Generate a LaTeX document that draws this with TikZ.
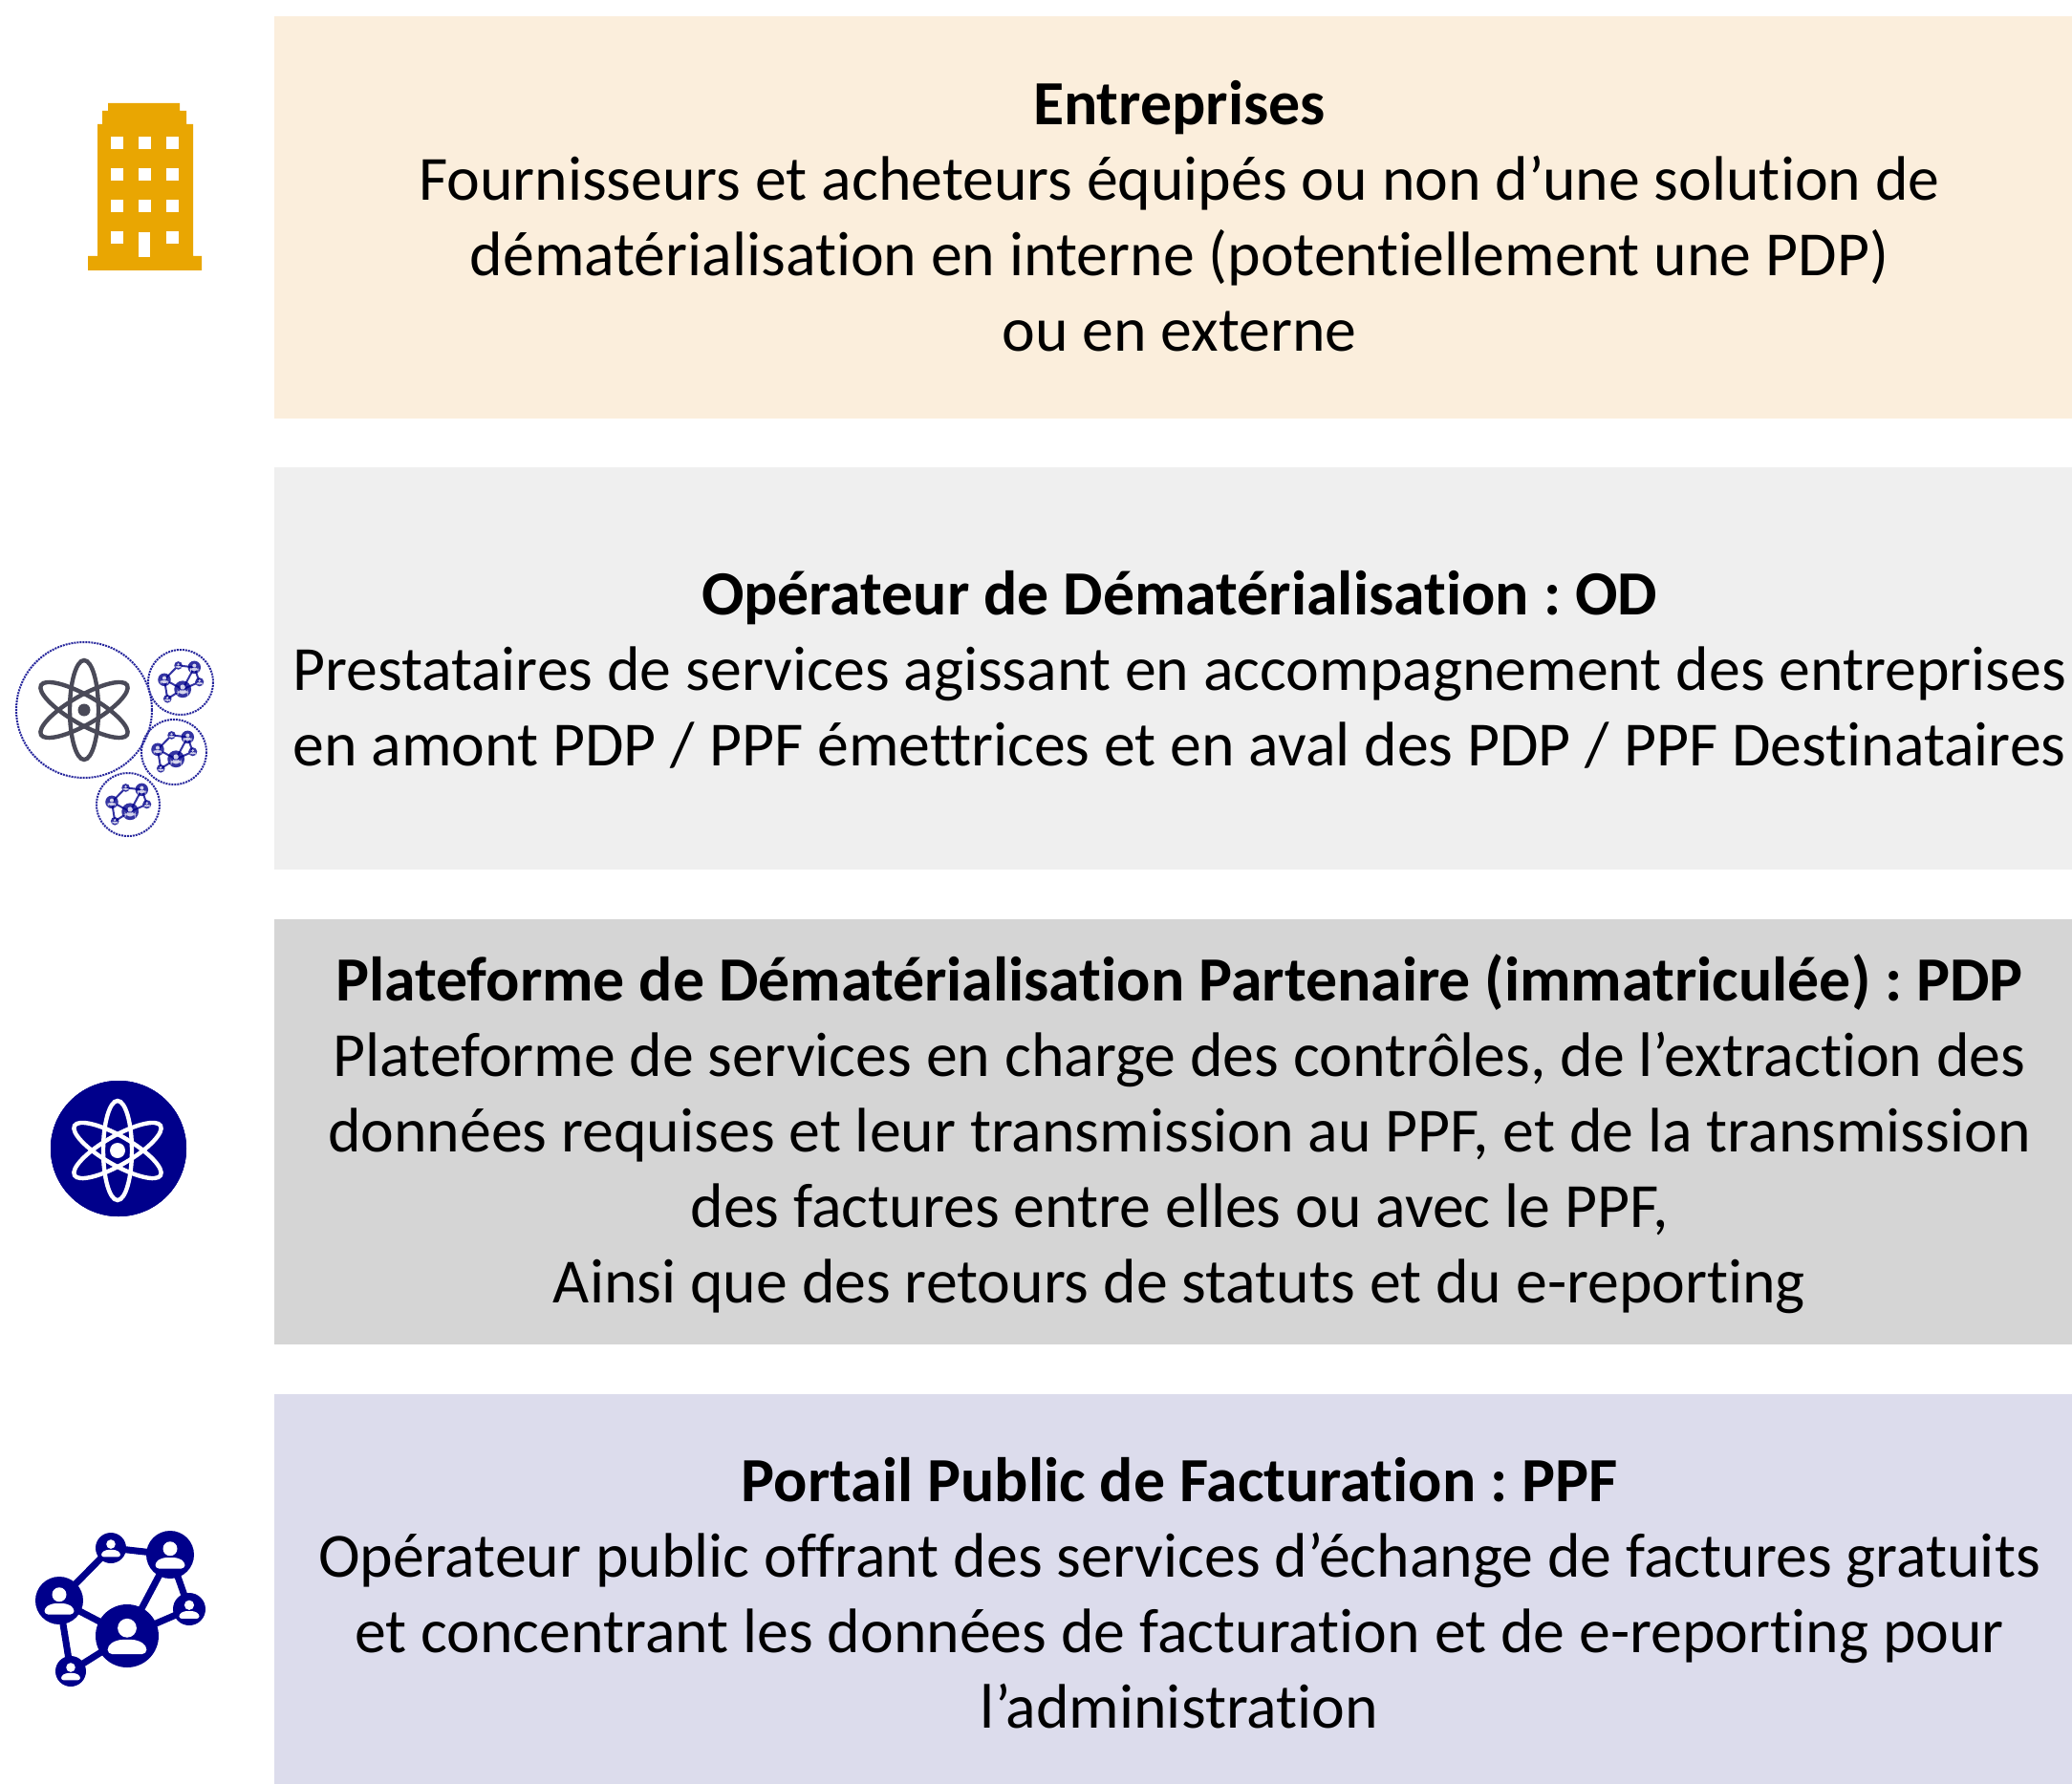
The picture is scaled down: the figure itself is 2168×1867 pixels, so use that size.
\documentclass[tikz,border=0pt]{standalone}
\usepackage{fontspec}
\setmainfont[Ligatures=NoCommon]{Carlito}
\frenchspacing
\definecolor{boxA}{HTML}{FBEEDC}
\definecolor{boxB}{HTML}{EFEFEF}
\definecolor{boxC}{HTML}{D5D5D5}
\definecolor{boxD}{HTML}{DCDCEC}
\definecolor{gold}{HTML}{E9A602}
\definecolor{navyb}{HTML}{00008B}
\definecolor{atomgrey}{HTML}{4A4A58}
\newcommand{\atomicon}[4]{%
  \begin{scope}[shift={(#1,#2)}]
    \foreach \a in {0,60,120}
      \draw[#3,line width=4.4pt,rotate=\a] (0,0) ellipse [x radius=15,y radius=52];
    \fill[#3] (0,0) circle (#4);
  \end{scope}}
\newcommand{\netcore}{%
  \draw[netline] (-9,-65) -- (53,-58) -- (73,-1) -- (8,27) -- (53,-58)
    (-9,-65) -- (-63,-10) -- (8,27) -- (-51,64) -- (-63,-10);
  \foreach \x/\y/\r in {-9/-65/16,53/-58/25,-63/-10/25,8/27/33,73/-1/17,-51/64/16}{
    \fill[navyb] (\x,\y) circle (\r);
    \fill[white] (\x,\y-0.25*\r) circle (0.3*\r);
    \fill[white,rounded corners=0.15*\r] (\x-0.62*\r,\y+0.58*\r) -- (\x-0.62*\r,\y+0.3*\r) -- (\x-0.3*\r,\y+0.12*\r) -- (\x+0.3*\r,\y+0.12*\r) -- (\x+0.62*\r,\y+0.3*\r) -- (\x+0.62*\r,\y+0.58*\r) -- cycle;
  }}
\tikzset{
  x=1pt,y=-1pt,
  band/.style={draw=none},
  lbl/.style={align=center,inner sep=0pt,text=black,font=\fontsize{65.8}{79}\selectfont},
  ring/.style={draw=navyb!85,line width=2pt,densely dotted},
  netline/.style={draw=navyb,line width=7pt}
}
\begin{document}
\begin{tikzpicture}
\useasboundingbox (0,0) rectangle (2168,1867);
\fill[white] (0,0) rectangle (2168,1867);
% bands
\fill[boxA,band] (287,17) rectangle (2168,438);
\fill[boxB,band] (287,489) rectangle (2168,910);
\fill[boxC,band] (287,962) rectangle (2168,1407);
\fill[boxD,band] (287,1459) rectangle (2168,1867);
% texts
\node[lbl] (entreprises) at (1234,226) {\textbf{Entreprises}\\Fournisseurs et acheteurs équipés ou non d’une solution de\\dématérialisation en interne (potentiellement une PDP)\\ou en externe};
\node[lbl] (od) at (1234,701) {\textbf{Opérateur de Dématérialisation : OD}\\Prestataires de services agissant en accompagnement des entreprises\\en amont PDP / PPF émettrices et en aval des PDP / PPF Destinataires};
\node[lbl] (pdp) at (1234,1187) {\textbf{Plateforme de Dématérialisation Partenaire (immatriculée) : PDP}\\Plateforme de services en charge des contrôles, de l’extraction des\\données requises et leur transmission au PPF, et de la transmission\\des factures entre elles ou avec le PPF,\\Ainsi que des retours de statuts et du e-reporting};
\node[lbl] (ppf) at (1234,1667) {\textbf{Portail Public de Facturation : PPF}\\Opérateur public offrant des services d’échange de factures gratuits\\et concentrant les données de facturation et de e-reporting pour\\l’administration};
% building icon
\fill[gold] (92,283) -- (92,268) -- (102,268) -- (102,130) -- (107,130) -- (107,116) -- (113,116) -- (113,108) -- (188,108) -- (188,116) -- (195,116) -- (195,130) -- (202,130) -- (202,268) -- (211,268) -- (211,283) -- cycle;
\foreach \x in {122,151,180}
  \foreach \y in {150,183,216}
    \fill[white] (\x-6.5,\y-6.5) rectangle (\x+6.5,\y+6.5);
\foreach \x in {122,180}
  \fill[white] (\x-6.5,249-6.5) rectangle (\x+6.5,249+6.5);
\fill[white] (145,243) rectangle (157,269);
% OD icon
\draw[ring] (88,743) circle (71);
\draw[ring] (189,714) circle (34);
\draw[ring] (182,787) circle (34);
\draw[ring] (134,842) circle (33);
\atomicon{88}{743}{atomgrey}{6.5}
\foreach \cx/\cy in {189/714,182/787,134/842}
  \begin{scope}[shift={(\cx,\cy)},scale=0.27,opacity=0.8,netline/.style={draw=navyb,line width=2pt}]
    \netcore
  \end{scope}
% PDP icon
\fill[navyb] (124,1202) circle (71);
\atomicon{123}{1204}{white}{8}
% PPF icon
\begin{scope}[shift={(125,1685)}]
  \netcore
\end{scope}
\end{tikzpicture}
\end{document}
